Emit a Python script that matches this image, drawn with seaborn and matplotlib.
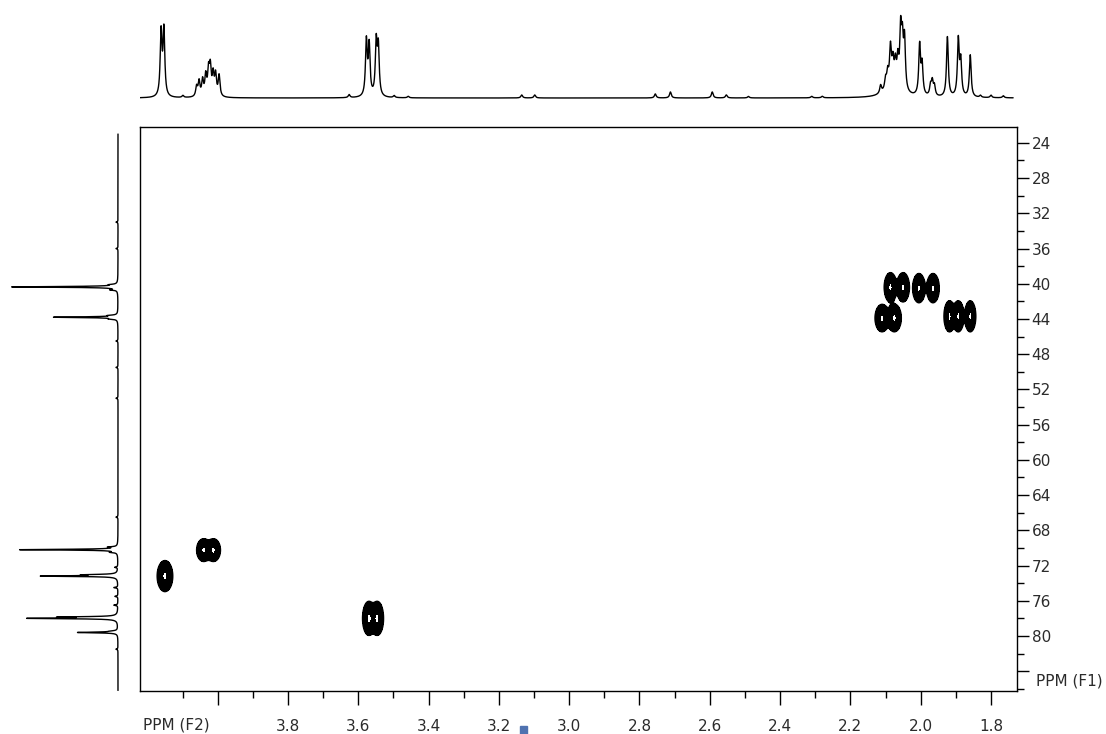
import numpy as np
import pandas as pd
import seaborn as sns
import matplotlib.pyplot as plt
from matplotlib.patches import Rectangle
from matplotlib.ticker import FixedLocator

# 1H projection (top trace): line positions in ppm, heights, half widths
h_ppm = [4.161, 4.153, 4.099,
         4.060, 4.053, 4.043, 4.034, 4.026, 4.021, 4.013, 4.006, 3.996,
         3.626, 3.577, 3.569, 3.549, 3.543, 3.498, 3.458,
         3.135, 3.098, 2.755, 2.712, 2.593, 2.553, 2.490, 2.310, 2.280,
         2.114, 2.100, 2.094, 2.086, 2.079, 2.072, 2.065, 2.057, 2.052, 2.046,
         2.080, 2.003, 1.996, 1.972, 1.967, 1.961,
         1.924, 1.893, 1.886, 1.859, 1.830, 1.800, 1.765]
h_height = [64, 66, 2,
            10, 15, 16, 20, 24, 27, 21, 21, 21,
            3, 55, 50, 53, 48, 2, 1.5,
            3, 3, 4, 6, 6, 3, 1.5, 1.5, 1.5,
            8, 10, 14, 36, 20, 20, 25, 56, 44, 50,
            14, 50, 30, 10, 14, 10,
            60, 56, 34, 42, 2, 2.5, 2]
h_width = [0.003] * 38 + [0.02] + [0.003] * 12

# 13C projection (left trace)
c_ppm = [40.10, 40.36, 40.70, 43.60, 43.80, 44.00,
         33.0, 36.0, 46.5, 49.5, 53.0, 66.5,
         69.90, 70.20, 70.50, 72.20, 73.05, 73.20, 74.50, 75.50,
         76.50, 77.85, 78.00, 79.45, 79.60, 81.50]
c_height = [6, 106, 6, 7, 64, 6,
            2, 2, 2, 2, 2, 2,
            8, 98, 6, 3, 30, 75, 4, 3,
            4, 53, 86, 5, 40, 2]
c_width = [0.05] * 26

# HSQC cross peaks: 1H ppm, 13C ppm, widths
xp_h = [4.150, 4.040, 4.012, 3.570, 3.546,
        2.086, 2.050, 2.005, 1.965, 2.110, 2.075,
        1.918, 1.893, 1.859]
xp_c = [73.2, 70.25, 70.25, 78.0, 78.0,
        40.4, 40.4, 40.5, 40.5, 43.9, 43.9,
        43.7, 43.7, 43.7]
xp_sh = [0.0106, 0.0095, 0.0095, 0.0085, 0.0085,
         0.0085, 0.0085, 0.0085, 0.0085, 0.0095, 0.0095,
         0.0075, 0.0075, 0.0075]
xp_sc = [0.85, 0.62, 0.62, 0.93, 0.93,
         0.8, 0.8, 0.8, 0.8, 0.75, 0.75,
         0.85, 0.85, 0.85]

x_ticks = [4.0, 3.8, 3.6, 3.4, 3.2, 3.0, 2.8, 2.6, 2.4, 2.2, 2.0, 1.8]
x_labels = ['', '3.8', '3.6', '3.4', '3.2', '3.0', '2.8', '2.6', '2.4', '2.2', '2.0', '1.8']
x_minor = [4.1, 3.9, 3.7, 3.5, 3.3, 3.1, 2.9, 2.7, 2.5, 2.3, 2.1, 1.9]
y_ticks = list(range(24, 88, 4))
y_labels = [str(v) for v in range(24, 84, 4)] + ['']
y_minor = list(range(26, 88, 4))

x_lim = (4.221, 1.726)
y_lim = (86.25, 22.2)


def lorentz_sum(axis, pos, hts, wid):
    s = np.zeros_like(axis)
    for p, h, w in zip(pos, hts, wid):
        s += h * w**2 / ((axis - p)**2 + w**2)
    return s


sns.set_style("white")
plt.rcParams['font.family'] = ['DejaVu Sans']
W, H = 1106, 734
fig = plt.figure(figsize=(W / 100, H / 100), dpi=100)

ax = fig.add_axes([140 / W, 43 / H, 877 / W, 564 / H])
ax_top = fig.add_axes([140 / W, 1 - 105 / H, 877 / W, 105 / H])
ax_left = fig.add_axes([0, 43 / H, 125 / W, 564 / H])

# top 1D trace
hx = np.linspace(4.221, 1.737, 8000)
top = pd.DataFrame({'ppm': hx, 'I': lorentz_sum(hx, h_ppm, h_height, h_width)})
sns.lineplot(data=top, x='ppm', y='I', ax=ax_top, color='black', lw=1.0,
             estimator=None, sort=False)
ax_top.set_xlim(*x_lim)
ax_top.set_ylim(-7, 98)
ax_top.axis('off')

# left 1D trace
cy = np.linspace(23.0, 86.2, 8000)
left = pd.DataFrame({'ppm': cy, 'I': lorentz_sum(cy, c_ppm, c_height, c_width)})
sns.lineplot(data=left, x='I', y='ppm', ax=ax_left, color='black', lw=1.0,
             estimator=None, sort=False, orient='y')
ax_left.set_xlim(118, -7)
ax_left.set_ylim(*y_lim)
ax_left.axis('off')

# 2D cross peaks
gx = np.linspace(4.25, 1.70, 1400)
gy = np.linspace(22, 87, 900)
X, Y = np.meshgrid(gx, gy)
Z = np.zeros_like(X)
for a, b, sa, sb in zip(xp_h, xp_c, xp_sh, xp_sc):
    Z += np.exp(-0.5 * (((X - a) / sa)**2 + ((Y - b) / sb)**2))
ax.contourf(X, Y, Z, levels=[0.12, 0.86], colors='black')
ax.contour(X, Y, Z, levels=[0.12], colors='black', linewidths=1.2)

ax.set_xlim(*x_lim)
ax.set_ylim(*y_lim)
ax.set_xlabel('')
ax.set_ylabel('')
for s in ax.spines.values():
    s.set_color('black')
    s.set_linewidth(1.0)

ax.xaxis.set_major_locator(FixedLocator(x_ticks))
ax.set_xticklabels(x_labels)
ax.xaxis.set_minor_locator(FixedLocator(x_minor))
ax.yaxis.tick_right()
ax.yaxis.set_major_locator(FixedLocator(y_ticks))
ax.set_yticklabels(y_labels)
ax.yaxis.set_minor_locator(FixedLocator(y_minor))

txt = '#2b2b2b'
ax.tick_params(axis='x', which='major', direction='out', length=10, width=1,
               color='black', labelsize=11, labelcolor=txt, pad=10,
               bottom=True, top=False)
ax.tick_params(axis='x', which='minor', direction='out', length=5, width=1,
               color='black', bottom=True, top=False)
ax.tick_params(axis='y', which='major', direction='out', length=8.5, width=1,
               color='black', labelsize=11, labelcolor=txt, pad=2,
               right=True, left=False, labelright=True, labelleft=False)
ax.tick_params(axis='y', which='minor', direction='out', length=5, width=1,
               color='black', right=True, left=False)

fig.text(143 / W, 1 - 725 / H, 'PPM (F2)', fontsize=11, color=txt,
         ha='left', va='center')
fig.text(1036 / W, 1 - 681 / H, 'PPM (F1)', fontsize=11, color=txt,
         ha='left', va='center')

fig.patches.append(Rectangle((520 / W, 0), 7 / W, 8 / H, transform=fig.transFigure,
                             color='#4f72b0', zorder=5))

fig.savefig('out.png', dpi=100)
